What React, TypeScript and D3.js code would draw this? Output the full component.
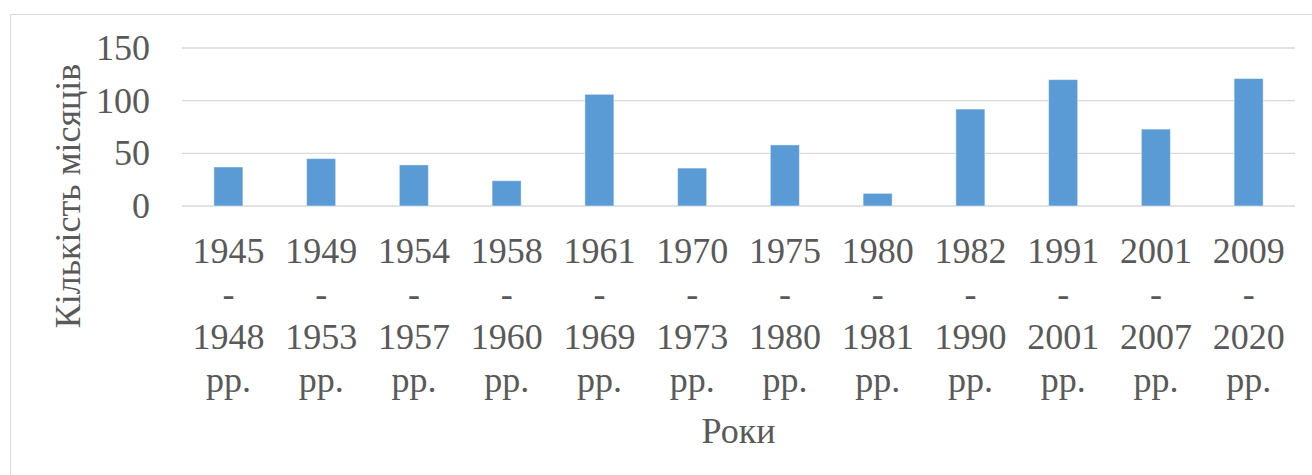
import React from "react";
import * as d3 from "d3";

// chart values
const periods = [
  "1945 - 1948 рр.",
  "1949 - 1953 рр.",
  "1954 - 1957 рр.",
  "1958 - 1960 рр.",
  "1961 - 1969 рр.",
  "1970 - 1973 рр.",
  "1975 - 1980 рр.",
  "1980 - 1981 рр.",
  "1982 - 1990 рр.",
  "1991 - 2001 рр.",
  "2001 - 2007 рр.",
  "2009 - 2020 рр.",
];
const months = [37, 45, 39, 24, 106, 36, 58, 12, 92, 120, 73, 121];
const yTicks = [0, 50, 100, 150];
const yTitle = "Кількість місяців";
const xTitle = "Роки";

const W = 1312;
const H = 475;
const plot = { left: 182, right: 1295, top: 48, bottom: 206 };
const font = "'Liberation Serif', 'Times New Roman', serif";
const textColor = "#595959";

const App = () => {
  const x = d3
    .scaleBand<string>()
    .domain(periods)
    .range([plot.left, plot.right])
    .paddingInner(0.687)
    .paddingOuter(0.3435);

  const y = d3.scaleLinear().domain([0, 150]).range([plot.bottom, plot.top]);

  const splitLabel = (s: string) => {
    const [a, b] = s.split(" - ");
    const [c, d] = b.split(" ");
    return [a, "-", c, d];
  };

  return (
    <svg
      width={W}
      height={H}
      style={{ position: "absolute", left: 0, top: 0, background: "#fff" }}
      fontFamily={font}
    >
      {/* chart area border */}
      <rect x={10.5} y={14.5} width={W + 10} height={H + 10} fill="#fff" stroke="#D9D9D9" strokeWidth={1} />

      {/* gridlines */}
      {yTicks.map((t) => (
        <line
          key={t}
          x1={plot.left}
          x2={plot.right}
          y1={y(t)}
          y2={y(t)}
          stroke="#D9D9D9"
          strokeWidth={1.3}
        />
      ))}

      {/* y tick labels */}
      {yTicks.map((t) => (
        <text
          key={"l" + t}
          x={150}
          y={y(t) + 12}
          textAnchor="end"
          fontSize={36}
          fill={textColor}
        >
          {t}
        </text>
      ))}

      {/* bars */}
      {periods.map((p, i) => (
        <rect
          key={p}
          x={x(p)}
          y={y(months[i])}
          width={x.bandwidth()}
          height={y(0) - y(months[i])}
          fill="#5B9BD5"
          stroke="#fff"
          strokeOpacity={0.45}
          strokeWidth={1}
        />
      ))}

      {/* category labels */}
      {periods.map((p) => {
        const cx = (x(p) as number) + x.bandwidth() / 2;
        return (
          <text key={"c" + p} textAnchor="middle" fontSize={36} fill={textColor}>
            {splitLabel(p).map((line, j) => (
              <tspan key={j} x={cx} y={263 + j * 43}>
                {line}
              </tspan>
            ))}
          </text>
        );
      })}

      {/* axis titles */}
      <text
        transform={`translate(80, 196) rotate(-90)`}
        textAnchor="middle"
        fontSize={36}
        fill={textColor}
      >
        {yTitle}
      </text>
      <text
        x={(plot.left + plot.right) / 2}
        y={443}
        textAnchor="middle"
        fontSize={36}
        fill={textColor}
      >
        {xTitle}
      </text>
    </svg>
  );
};

export default App;
